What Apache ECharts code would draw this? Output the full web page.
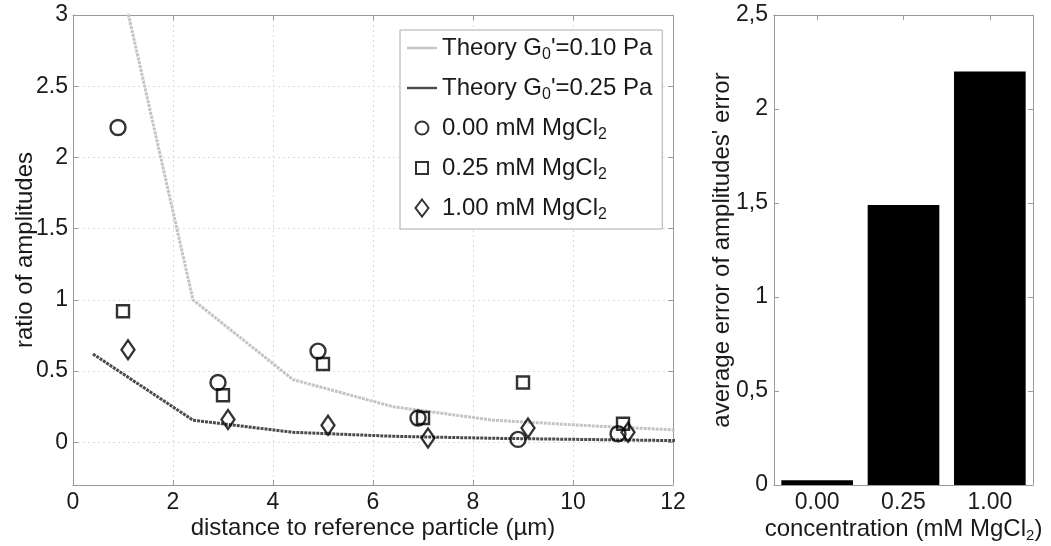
<!DOCTYPE html>
<html><head><meta charset="utf-8">
<script src="https://cdn.jsdelivr.net/npm/echarts@6/dist/echarts.min.js"></script>
<style>html,body{margin:0;padding:0;background:#fff}#c{width:1051px;height:546px}</style>
</head><body><div id="c"></div>
<script>
const theoryX = [0.4, 2.4, 4.4, 6.4, 8.4, 10.4, 12.4];
const theory010 = [4.1, 1.0, 0.44, 0.25, 0.155, 0.115, 0.08];
const theory025 = [0.62, 0.155, 0.07, 0.042, 0.028, 0.019, 0.01];
const mg000X = [0.9, 2.9, 4.9, 6.9, 8.9, 10.9];
const mg000Y = [2.21, 0.42, 0.64, 0.17, 0.02, 0.06];
const mg025X = [1.0, 3.0, 5.0, 7.0, 9.0, 11.0];
const mg025Y = [0.92, 0.33, 0.55, 0.17, 0.42, 0.13];
const mg100X = [1.1, 3.1, 5.1, 7.1, 9.1, 11.1];
const mg100Y = [0.65, 0.16, 0.12, 0.03, 0.10, 0.07];
const leftYTicks = [0, 0.5, 1, 1.5, 2, 2.5, 3];
const barCategories = ['0.00', '0.25', '1.00'];
const barValues = [0.025, 1.49, 2.2];

const names = ["Theory G0'=0.10 Pa", "Theory G0'=0.25 Pa", '0.00 mM MgCl2', '0.25 mM MgCl2', '1.00 mM MgCl2'];
const zip = (xs, ys) => xs.map((x, i) => [x, ys[i]]);

const FONT = 'Liberation Sans, Arial, sans-serif';
const TXT = '#1a1a1a';
const AX = '#9a9a9a';
const FS = 23;
const LFS = 24;
const NFS = 24;
const subStyle = { fontSize: 15, fontFamily: FONT, color: TXT, padding: [13, 0, 0, 0] };
const legMain = { fontSize: LFS, fontFamily: FONT, color: TXT };
const legSub = { fontSize: 16, fontFamily: FONT, color: TXT, padding: [14, 0, 0, 0] };
const nameMain = { fontSize: NFS, fontFamily: FONT, color: TXT };
const lineIcon = 'path://M0,0M0,7.8L30,7.8L30,10.2L0,10.2ZM30,18';
const rectIcon = 'path://M0,0M9,3L21,3L21,15L9,15ZM30,18';
const diamondIcon = 'path://M0,0M15,0.5L21.5,9L15,17.5L8.5,9ZM30,18';
const circleIcon = 'path://M0,0M21.5,9A6.5,6.5,0,1,1,8.5,9A6.5,6.5,0,1,1,21.5,9ZM30,18';

const axisLine = { show: true, onZero: false, lineStyle: { color: AX, width: 1 } };
const tickIn = { show: true, inside: true, length: 5, lineStyle: { color: AX } };
const markerStyle = { color: 'rgba(255,255,255,0)', borderColor: '#000', borderWidth: 2.4 };

const chart = echarts.init(document.getElementById('c'), null, { renderer: 'canvas' });
chart.setOption({
  backgroundColor: '#fff',
  animation: false,
  textStyle: { fontFamily: FONT },
  grid: [
    { left: 73, top: 15, width: 600, height: 470, outerBoundsMode: 'none', containLabel: false },
    { left: 774, top: 15, width: 259, height: 470, outerBoundsMode: 'none', containLabel: false }
  ],
  legend: {
    data: [
      { name: names[0], icon: lineIcon },
      { name: names[1], icon: lineIcon },
      { name: names[2], icon: circleIcon },
      { name: names[3], icon: rectIcon },
      { name: names[4], icon: diamondIcon }
    ],
    orient: 'vertical',
    left: 400, top: 30,
    itemWidth: 30, itemHeight: 18, itemGap: 13,
    padding: [6, 10, 6, 6],
    backgroundColor: '#fff',
    borderColor: '#aaa', borderWidth: 1,
    z: 10,
    textStyle: { fontSize: LFS, fontFamily: FONT, color: TXT,
      rich: { t: legMain, s: legSub } },
    formatter: function (n) {
      if (n.indexOf('Theory') === 0) {
        return '{t|Theory G}{s|0}{t|' + n.slice(9) + '}';
      }
      return '{t|' + n.slice(0, -1) + '}{s|' + n.slice(-1) + '}';
    }
  },
  xAxis: [
    { gridIndex: 0, type: 'value', min: 0, max: 12, interval: 2,
      axisLine, axisTick: tickIn,
      axisLabel: { fontSize: FS, color: TXT, margin: 6 },
      splitLine: { show: true, lineStyle: { color: '#dcdcdc', type: [2, 3] } },
      name: 'distance to reference particle (µm)', nameLocation: 'middle', nameGap: 31,
      nameMoveOverlap: false,
      nameTextStyle: { fontSize: NFS, color: TXT } },
    { gridIndex: 0, type: 'value', min: 0, max: 12, interval: 2, position: 'top',
      axisLine, axisTick: tickIn, axisLabel: { show: false }, splitLine: { show: false } },
    { gridIndex: 1, type: 'category', data: barCategories,
      axisLine, axisTick: { show: false },
      axisLabel: { fontSize: FS, color: TXT, margin: 6 },
      name: '{t|concentration (mM MgCl}{s|2}{t|)}', nameLocation: 'middle', nameGap: 30,
      nameMoveOverlap: false,
      nameTextStyle: { fontSize: NFS, color: TXT, rich: { t: nameMain, s: subStyle } } },
    { gridIndex: 1, type: 'category', data: barCategories, position: 'top',
      axisLine, axisTick: Object.assign({ alignWithLabel: true }, tickIn),
      axisLabel: { show: false } }
  ],
  yAxis: [
    { gridIndex: 0, type: 'value', min: -0.3, max: 3,
      axisLine,
      axisTick: Object.assign({ customValues: leftYTicks }, tickIn),
      axisLabel: { fontSize: FS, color: TXT, margin: 5, customValues: leftYTicks },
      splitLine: { show: true, lineStyle: { color: '#dcdcdc', type: [2, 3] } },
      name: 'ratio of amplitudes', nameLocation: 'middle', nameGap: 36,
      nameMoveOverlap: false,
      nameTextStyle: { fontSize: NFS, color: TXT } },
    { gridIndex: 0, type: 'value', min: -0.3, max: 3, position: 'right',
      axisLine,
      axisTick: Object.assign({ customValues: leftYTicks }, tickIn),
      axisLabel: { show: false, customValues: leftYTicks }, splitLine: { show: false } },
    { gridIndex: 1, type: 'value', min: 0, max: 2.5, interval: 0.5,
      axisLine, axisTick: tickIn,
      axisLabel: { fontSize: FS, color: TXT, margin: 6,
        formatter: v => String(v).replace('.', ',') },
      splitLine: { show: false },
      name: "average error of amplitudes' error", nameLocation: 'middle', nameGap: 40,
      nameMoveOverlap: false,
      nameTextStyle: { fontSize: NFS, color: TXT } },
    { gridIndex: 1, type: 'value', min: 0, max: 2.5, interval: 0.5, position: 'right',
      axisLine, axisTick: tickIn, axisLabel: { show: false }, splitLine: { show: false } }
  ],
  series: [
    { name: names[0], type: 'line', xAxisIndex: 0, yAxisIndex: 0, data: zip(theoryX, theory010),
      symbol: 'none', lineStyle: { color: '#c4c4c4', width: 3, type: [3, 1] },
      itemStyle: { color: '#c4c4c4' }, z: 2 },
    { name: names[1], type: 'line', xAxisIndex: 0, yAxisIndex: 0, data: zip(theoryX, theory025),
      symbol: 'none', lineStyle: { color: '#4a4a4a', width: 3, type: [3, 1] },
      itemStyle: { color: '#4a4a4a' }, z: 2 },
    { name: names[2], type: 'scatter', xAxisIndex: 0, yAxisIndex: 0, data: zip(mg000X, mg000Y),
      symbol: 'circle', symbolSize: 15, itemStyle: markerStyle, z: 5 },
    { name: names[3], type: 'scatter', xAxisIndex: 0, yAxisIndex: 0, data: zip(mg025X, mg025Y),
      symbol: 'rect', symbolSize: 12, itemStyle: markerStyle, z: 5 },
    { name: names[4], type: 'scatter', xAxisIndex: 0, yAxisIndex: 0, data: zip(mg100X, mg100Y),
      symbol: 'diamond', symbolSize: [13, 19], itemStyle: markerStyle, z: 5 },
    { type: 'bar', xAxisIndex: 2, yAxisIndex: 2, data: barValues, barWidth: '83%',
      itemStyle: { color: '#000' } }
  ]
});
</script></body></html>
